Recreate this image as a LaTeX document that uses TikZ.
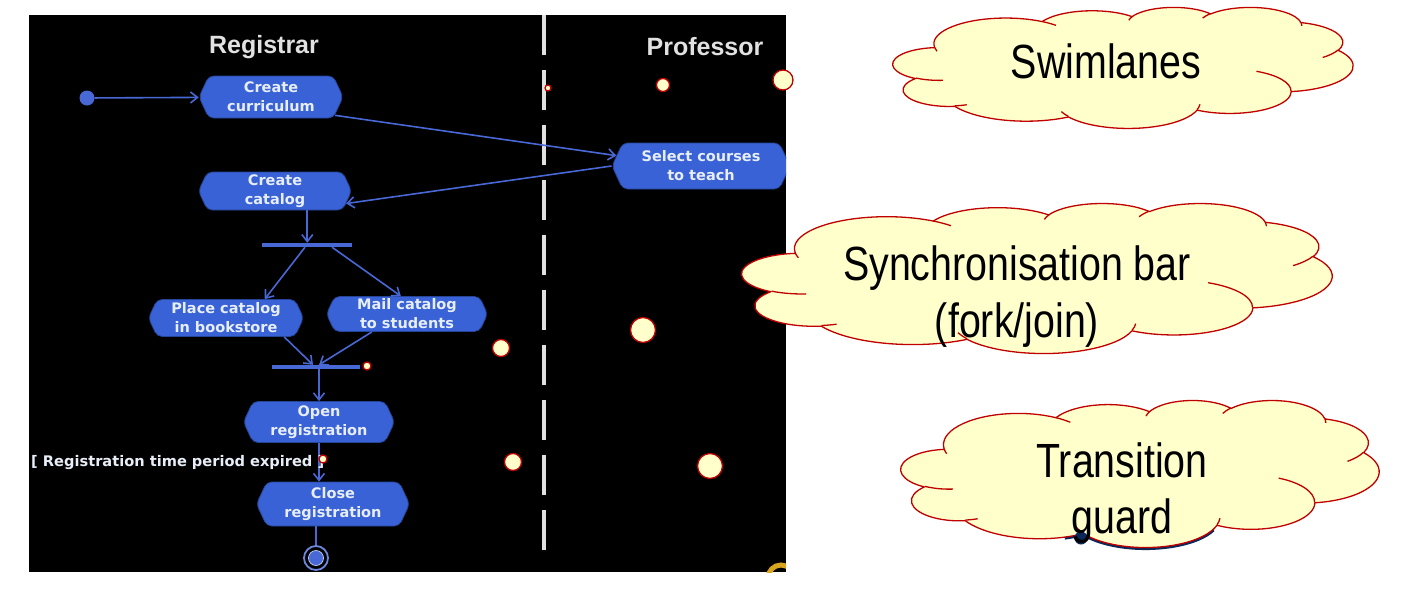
\documentclass[tikz,border=0pt]{standalone}
\usepackage{fontspec}
\setmainfont{Liberation Sans}
\newfontfamily\actfont{DejaVu Sans}
\usetikzlibrary{shapes.symbols,shapes.misc,arrows.meta}
\definecolor{actblue}{RGB}{56,98,214}
\definecolor{lineblue}{RGB}{72,104,214}
\definecolor{acttext}{RGB}{232,238,248}
\definecolor{cloudfill}{RGB}{255,255,204}
\definecolor{cloudline}{RGB}{192,0,0}
\definecolor{lanegray}{RGB}{225,225,225}
\definecolor{ringgold}{RGB}{215,165,30}
\definecolor{navydot}{RGB}{10,40,90}
% ---- cloud outline (preset cloud geometry, 432 x 432 units) ----
\gdef\cloudouter{}
\gdef\cloudinner{}
\newcommand\addcloudarc[5]{%
  \pgfmathsetmacro\cldA{atan2((#2)*sin(#4),(#3)*cos(#4))}%
  \pgfmathsetmacro\cldB{atan2((#2)*sin((#4)+(#5)),(#3)*cos((#4)+(#5)))}%
  \pgfmathsetmacro\cldD{\cldB-\cldA}%
  \pgfmathsetmacro\cldD{\cldD-360*round((\cldD-(#5))/360)}%
  \xdef#1{#1 arc[start angle=\cldA, delta angle=\cldD, x radius=#2, y radius=#3]}%
}
\newcommand\addinnerarc[7]{%
  \xdef\cloudinner{\cloudinner (#1,#2)}%
  \addcloudarc{\cloudinner}{#3}{#4}{#5}{#6}%
}
\addcloudarc{\cloudouter}{67.53}{91.90}{-190.48748}{123.78053}
\addcloudarc{\cloudouter}{53.33}{72.67}{-144.10238}{89.94523}
\addcloudarc{\cloudouter}{43.65}{59.45}{-145.80792}{99.72302}
\addcloudarc{\cloudouter}{48.57}{65.95}{-130.98607}{117.24173}
\addcloudarc{\cloudouter}{53.33}{72.73}{-78.70888}{109.02692}
\addcloudarc{\cloudouter}{67.75}{92.20}{-46.26725}{130.269}
\addcloudarc{\cloudouter}{57.85}{78.67}{0.62502}{114.03333}
\addcloudarc{\cloudouter}{67.52}{92.15}{22.4516}{115.17255}
\addcloudarc{\cloudouter}{77.20}{105.43}{66.24263}{75.71102}
\addcloudarc{\cloudouter}{43.60}{59.18}{-274.94208}{146.73557}
\addcloudarc{\cloudouter}{43.45}{59.45}{-246.8285}{152.51885}
\addinnerarc{46.93}{261.77}{43.45}{59.45}{86.7420}{26.4295}{}
\addinnerarc{69.28}{348.99}{43.60}{59.18}{73.61047}{11.44747}{}
\addinnerarc{164.78}{390.90}{67.52}{92.15}{137.62415}{14.0811}{}
\addinnerarc{288.27}{347.51}{67.52}{92.15}{6.45327}{15.99835}{}
\addinnerarc{341.29}{229.54}{57.85}{78.67}{-70.29235}{70.91737}{}
\addinnerarc{417.98}{153.54}{53.33}{72.73}{30.31803}{27.7515}{}
\addinnerarc{383.24}{54.26}{48.57}{65.95}{-13.74433}{14.85817}{}
\addinnerarc{290.78}{39.52}{48.57}{65.95}{-149.18145}{18.19537}{}
\addinnerarc{221.41}{47.20}{43.65}{59.45}{-163.49427}{17.68635}{}
\addinnerarc{140.00}{51.92}{67.53}{91.90}{-66.70695}{12.31935}{}
\addinnerarc{41.27}{157.89}{67.53}{91.90}{157.65435}{11.85817}{}
\newcommand\pptcloud[5]{%
  \pgfmathsetmacro\cldsx{(#3)/432}%
  \pgfmathsetmacro\cldsy{(#4)/432}%
  \begin{scope}[shift={(#1,#2)}, x=\cldsx pt, y=-\cldsy pt]
    #5
    \filldraw[cloudshape] (39,143.7) \cloudouter -- cycle;
    \draw[cloudshape, fill=none] \cloudinner;
  \end{scope}}
\begin{document}
\begin{tikzpicture}[x=1pt,y=-1pt,
 actbox/.style={shape=signal, signal to=west and east, signal pointer angle=130, fill=actblue, draw=actblue!70!black, line width=0.8, rounded corners=5, inner sep=0, align=center, font=\actfont\bfseries\fontsize{14.5}{19}\selectfont, text=acttext},
 flowarrow/.style={draw=lineblue, line width=1.6, -{Straight Barb[length=7,width=11]}},
 flowline/.style={draw=lineblue, line width=1.6},
 syncbar/.style={fill=lineblue, inner sep=0, minimum height=4, draw=none},
 lanetitle/.style={font=\bfseries\fontsize{25}{30}\selectfont, text=lanegray, inner sep=0},
 guardtext/.style={font=\actfont\bfseries\fontsize{14.6}{17}\selectfont, text=acttext, inner sep=0},
 tailbubble/.style={circle, fill=cloudfill, draw=cloudline, line width=1.3, inner sep=0},
 cloudshape/.style={fill=cloudfill, draw=cloudline, line width=1.3, line join=round},
 cloudtext/.style={font=\fontsize{48}{56}\selectfont, xscale=0.82, anchor=base, inner sep=0},
]
\useasboundingbox (0,0) rectangle (1427,590);
\fill[white] (0,0) rectangle (1427,590);
\fill[black] (29,15) rectangle (786,572);
\begin{scope}
\clip (29,15) rectangle (786,572);
\node[lanetitle] (reg) at (264,47) {Registrar};
\node[lanetitle] (prof) at (705,47) {Professor};
\draw[lanegray, line width=4.5, dash pattern=on 40 off 15] (544,15) -- (544,560);
\node[circle, fill=lineblue, minimum size=15, inner sep=0] (init) at (87,98) {};
\node[actbox, minimum width=144, minimum height=42] (cc) at (271,97) {Create\\curriculum};
\node[actbox, minimum width=153, minimum height=38] (cat) at (275,191) {Create\\catalog};
\node[actbox, minimum width=178, minimum height=46] (sel) at (701,166) {Select courses\\to teach};
\node[syncbar, minimum width=90] (fork) at (307,245) {};
\node[actbox, minimum width=155, minimum height=37] (place) at (226,318) {Place catalog\\in bookstore};
\node[actbox, minimum width=161, minimum height=35] (mail) at (407,314) {Mail catalog\\to students};
\node[syncbar, minimum width=88] (join) at (316,367) {};
\node[actbox, minimum width=151, minimum height=41] (open) at (319,422) {Open\\registration};
\node[actbox, minimum width=153, minimum height=44] (close) at (333,504) {Close\\registration};
\node[circle, draw=lineblue!80!white, line width=1.8, fill=black, minimum size=24, inner sep=0] (fin) at (316,558) {};
\node[circle, fill=lineblue, draw=acttext!70!lineblue, line width=0.8, minimum size=15, inner sep=0] (finc) at (fin) {};
\draw[flowarrow] (init) -- (cc);
\draw[flowarrow] (cc.-16) -- (sel.173);
\draw[flowarrow] (sel.180) -- (cat.-10);
\draw[flowarrow] (cat.-31.5) -- (cat.-31.5 |- fork.north);
\draw[flowarrow] ([xshift=-2]fork.south) -- (place.26);
\draw[flowarrow] ([xshift=25]fork.south) -- (mail.109);
\draw[flowarrow] (place.-18) -- ([xshift=-3]join.north);
\draw[flowarrow] (mail.-153) -- ([xshift=3]join.north);
\draw[flowarrow] (open.north |- join.south) -- (open.north);
\draw[flowarrow] (open.south) -- (open.south |- close.north) node[guardtext, pos=0.5, anchor=east, xshift=6] (guard) {[ Registration time period expired ]};
\draw[flowline] (fin.north |- close.south) -- (fin.north);
\draw[ringgold, line width=5] (781,578) circle (13);
\end{scope}
% callout tails
\node[tailbubble, minimum size=6] (t1a) at (548,88) {};
\node[tailbubble, minimum size=13] (t1b) at (663,85) {};
\node[tailbubble, minimum size=20] (t1c) at (783,80) {};
\node[tailbubble, minimum size=8] (t2a) at (367,366) {};
\node[tailbubble, minimum size=17] (t2b) at (501,348) {};
\node[tailbubble, minimum size=25] (t2c) at (643,330) {};
\node[tailbubble, minimum size=8] (t3a) at (323,459) {};
\node[tailbubble, minimum size=17] (t3b) at (513,462) {};
\node[tailbubble, minimum size=25] (t3c) at (710,466) {};
% clouds
\pptcloud{893}{7}{460}{121}{}
\pptcloud{742}{203}{590}{150}{}
\pptcloud{901}{400}{478}{147}{%
  \begin{scope}
    \clip (148,330) rectangle (283,470);
    \draw[navydot, line width=2.4, yshift=-1.3pt] (39,143.7) \cloudouter -- cycle;
  \end{scope}}
\fill[navydot] (1081,538) circle (6.5);
\node[cloudtext] (c1t) at (1106,78) {Swimlanes};
\node[cloudtext] (c2t) at (1017,280) {Synchronisation bar};
\node[cloudtext] (c2u) at (1017,337) {(fork/join)};
\node[cloudtext] (c3t) at (1122,477) {Transition};
\node[cloudtext] (c3u) at (1122,533) {guard};
\end{tikzpicture}
\end{document}
